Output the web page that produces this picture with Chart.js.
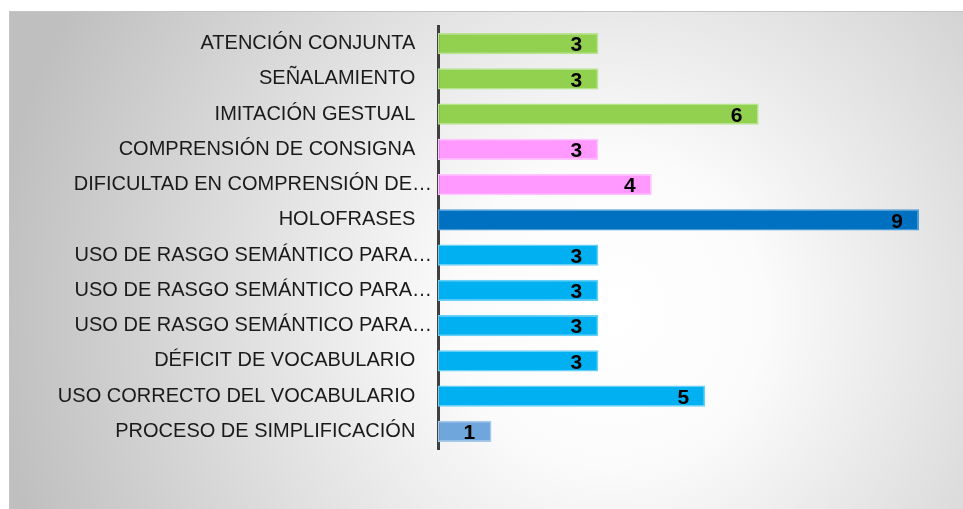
<!DOCTYPE html>
<html>
<head>
<meta charset="utf-8">
<script src="https://cdn.jsdelivr.net/npm/chart.js@4"></script>
<style>
  html, body { margin: 0; padding: 0; background: #fff; }
  body { width: 963px; height: 509px; position: relative; overflow: hidden; }
  #frame {
    position: absolute; left: 9px; top: 11px; width: 954px; height: 498px;
    border-top: 1px solid #c4c4c4; border-left: 1px solid #c4c4c4;
    box-sizing: border-box;
  }
</style>
</head>
<body>
<div id="frame"><canvas id="chart"></canvas></div>
<script>
// ─── Data ─────────────────────────────────────────
const categories = [
    'ATENCIÓN CONJUNTA',
    'SEÑALAMIENTO',
    'IMITACIÓN GESTUAL',
    'COMPRENSIÓN DE CONSIGNA',
    'DIFICULTAD EN COMPRENSIÓN DE…',
    'HOLOFRASES',
    'USO DE RASGO SEMÁNTICO PARA…',
    'USO DE RASGO SEMÁNTICO PARA…',
    'USO DE RASGO SEMÁNTICO PARA…',
    'DÉFICIT DE VOCABULARIO',
    'USO CORRECTO DEL VOCABULARIO',
    'PROCESO DE SIMPLIFICACIÓN'
];
const values = [3, 3, 6, 3, 4, 9, 3, 3, 3, 3, 5, 1];
const axisMin = 0;
const axisMax = 9;

// ─── Styles ───────────────────────────────────────
const green = '#92d050', pink = '#ff99ff', navy = '#0070c0', cyan = '#00b0f0', steel = '#6fa6dc';
const fills = [green, green, green, pink, pink, navy, cyan, cyan, cyan, cyan, cyan, steel];
const edges = fills.map(c => ({
    '#92d050': '#b8e48e', '#ff99ff': '#ffc4ff', '#0070c0': '#4a9ad6',
    '#00b0f0': '#66d0f6', '#6fa6dc': '#a6c8ea'
}[c]));

// background: white centre fading to grey edges
const bgPlugin = {
    id: 'bg',
    beforeDraw(chart) {
        const { ctx, width, height } = chart;
        const g = ctx.createRadialGradient(600, 300, 0, 600, 300, 620);
        g.addColorStop(0, '#ffffff');
        g.addColorStop(0.25, '#fbfbfb');
        g.addColorStop(1, '#bfbfbf');
        ctx.save();
        ctx.fillStyle = g;
        ctx.fillRect(0, 0, width, height);
        ctx.restore();
    }
};

// value labels at the inner end of each bar
const valueLabels = {
    id: 'valueLabels',
    afterDatasetsDraw(chart) {
        const { ctx } = chart;
        const meta = chart.getDatasetMeta(0);
        ctx.save();
        ctx.font = 'bold 21px "Liberation Sans", Arial, sans-serif';
        ctx.fillStyle = '#000';
        ctx.textAlign = 'center';
        ctx.textBaseline = 'middle';
        meta.data.forEach((bar, i) => {
            ctx.fillText(String(values[i]), bar.x - 22, bar.y + 2);
        });
        ctx.restore();
    }
};

new Chart(document.getElementById('chart'), {
    type: 'bar',
    data: {
        labels: categories,
        datasets: [{
            data: values,
            backgroundColor: fills,
            borderColor: edges,
            borderWidth: 1.5,
            borderSkipped: false,
            categoryPercentage: 1,
            barPercentage: 0.6
        }]
    },
    options: {
        indexAxis: 'y',
        responsive: true,
        maintainAspectRatio: false,
        animation: false,
        layout: { padding: { top: 14, bottom: 60, right: 44, left: 0 } },
        plugins: { legend: { display: false }, tooltip: { enabled: false } },
        scales: {
            x: { display: false, min: axisMin, max: axisMax },
            y: {
                z: 1,
                afterFit: s => { s.width = 428; s.paddingTop = 0; s.paddingBottom = 0; },
                grid: { display: true, color: 'transparent', drawTicks: false },
                border: { display: true, color: '#404040', width: 3 },
                ticks: {
                    padding: 6,
                    color: '#1a1a1a',
                    font: { family: '"Liberation Sans", Arial, sans-serif', size: 20 },
                    callback: function (v, i) {
                        const t = categories[i];
                        return t.endsWith('…') ? t : t + '   ';
                    }
                }
            }
        }
    },
    plugins: [bgPlugin, valueLabels]
});
</script>
</body>
</html>
